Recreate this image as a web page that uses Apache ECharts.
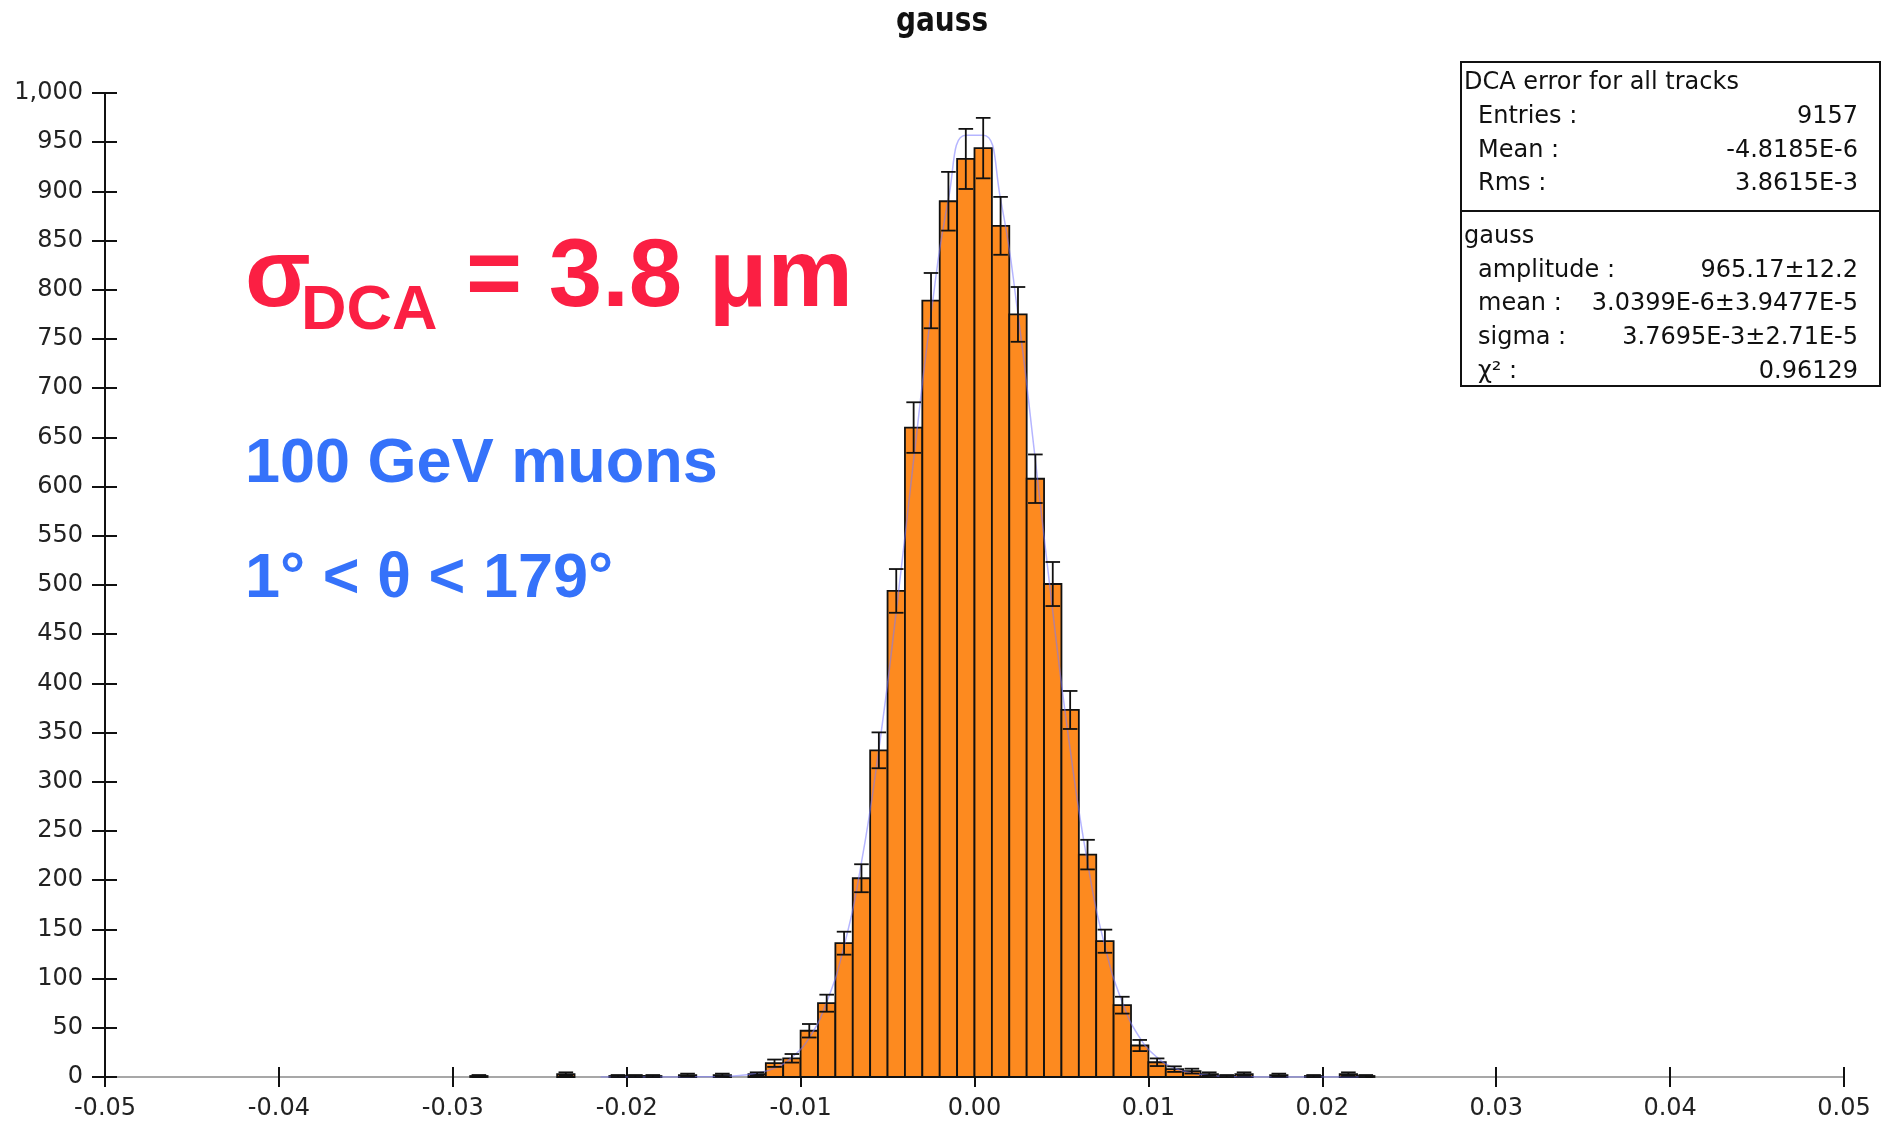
<!DOCTYPE html>
<html>
<head>
<meta charset="utf-8">
<title>gauss</title>
<script src="https://cdn.jsdelivr.net/npm/echarts@6/dist/echarts.min.js"></script>
<style>
    html, body { margin: 0; padding: 0; background: #fff; }
    #main { width: 1890px; height: 1123px; }
</style>
</head>
<body>
<div id="main"></div>
<script>
    // histogram: left edge of each filled bin and its entries (bin width 0.001)
    var binWidth = 0.001;
    var binLeft = [-0.029, -0.024, -0.021, -0.020, -0.019, -0.017, -0.015, -0.013,
        -0.012, -0.011, -0.010, -0.009, -0.008, -0.007, -0.006, -0.005, -0.004, -0.003, -0.002, -0.001,
        0.000, 0.001, 0.002, 0.003, 0.004, 0.005, 0.006, 0.007, 0.008, 0.009,
        0.010, 0.011, 0.012, 0.013, 0.014, 0.015, 0.017, 0.019, 0.021, 0.022];
    var counts = [1, 3, 1, 1, 1, 2, 2, 3,
        14, 19, 47, 75, 136, 202, 332, 494, 660, 789, 890, 933,
        944, 865, 775, 608, 501, 373, 226, 138, 73, 32,
        15, 8, 6, 3, 1, 3, 2, 1, 3, 1];

    // fitted gauss curve at the bin centres
    var fitX = [-0.0215, -0.0205, -0.0195, -0.0185, -0.0175, -0.0165, -0.0155, -0.0145, -0.0135, -0.0125,
        -0.0115, -0.0105, -0.0095, -0.0085, -0.0075, -0.0065, -0.0055, -0.0045, -0.0035, -0.0025,
        -0.0015, -0.0005, 0.0005, 0.0015, 0.0025, 0.0035, 0.0045, 0.0055, 0.0065,
        0.0075, 0.0085, 0.0095, 0.0105, 0.0115, 0.0125, 0.0135, 0.0145, 0.0155, 0.0165,
        0.0175, 0.0185, 0.0195, 0.0205, 0.0215, 0.0225];
    var fitY = [0, 0, 0, 0, 0, 0.1, 0.2, 0.6, 1.6, 4,
        9, 20, 40, 76, 133, 218, 333, 473, 627, 775,
        892, 957, 957, 892, 775, 627, 473, 333, 218,
        133, 76, 40, 20, 9, 4, 1.6, 0.6, 0.2, 0.1,
        0, 0, 0, 0, 0, 0];

    // statistics box
    var statTitle = 'DCA error for all tracks';
    var statLabels = ['Entries :', 'Mean :', 'Rms :'];
    var statValues = ['9157', '-4.8185E-6', '3.8615E-3'];
    var fitTitle = 'gauss';
    var fitLabels = ['amplitude :', 'mean :', 'sigma :', 'χ² :'];
    var fitValues = ['965.17±12.2', '3.0399E-6±3.9477E-5', '3.7695E-3±2.71E-5', '0.96129'];

    var chart = echarts.init(document.getElementById('main'));

    var barData = [];
    for (var i = 0; i < binLeft.length; i++) {
        barData.push([binLeft[i], counts[i]]);
    }
    var fitData = [];
    for (var j = 0; j < fitX.length; j++) {
        fitData.push([fitX[j], fitY[j]]);
    }

    var ink = '#111';

    function renderBar(params, api) {
        var x0 = api.value(0), v = api.value(1);
        var p0 = api.coord([x0, v]);
        var p1 = api.coord([x0 + binWidth, 0]);
        return {
            type: 'rect',
            shape: {x: p0[0], y: p0[1], width: p1[0] - p0[0], height: p1[1] - p0[1]},
            style: {fill: '#fd8a1f', stroke: ink, lineWidth: 1.8}
        };
    }

    // sqrt(N) error bar with a cap at both ends
    function renderErr(params, api) {
        var xc = api.value(0) + binWidth / 2, v = api.value(1), e = Math.sqrt(v);
        var top = api.coord([xc, v + e]);
        var bot = api.coord([xc, v - e]);
        var half = api.size([binWidth, 0])[0] * 0.42;
        var st = {stroke: ink, lineWidth: 1.8};
        return {
            type: 'group',
            children: [
                {type: 'line', shape: {x1: top[0], y1: top[1], x2: bot[0], y2: bot[1]}, style: st},
                {type: 'line', shape: {x1: top[0] - half, y1: top[1], x2: top[0] + half, y2: top[1]}, style: st},
                {type: 'line', shape: {x1: bot[0] - half, y1: bot[1], x2: bot[0] + half, y2: bot[1]}, style: st}
            ]
        };
    }

    // texts of the box and of the slide overlay
    var graphics = [];
    graphics.push({
        type: 'text', x: 942, y: 22, scaleY: 1.2,
        style: {text: 'gauss', fontFamily: 'DejaVu Sans', fontWeight: 'bold', fontSize: 28,
            fill: ink, align: 'center', verticalAlign: 'middle'}
    });
    graphics.push({
        type: 'rect', shape: {x: 1461, y: 62, width: 419, height: 324},
        style: {fill: '#fff', stroke: ink, lineWidth: 2}
    });
    graphics.push({
        type: 'line', shape: {x1: 1461, y1: 211, x2: 1880, y2: 211},
        style: {stroke: ink, lineWidth: 2}
    });
    function boxText(txt, x, y, align) {
        graphics.push({
            type: 'text', x: x, y: y,
            style: {text: txt, fontFamily: 'DejaVu Sans', fontSize: 24, fill: ink,
                align: align, verticalAlign: 'middle'}
        });
    }
    boxText(statTitle, 1464, 83, 'left');
    for (var k = 0; k < statLabels.length; k++) {
        boxText(statLabels[k], 1478, 117 + k * 33.6, 'left');
        boxText(statValues[k], 1858, 117 + k * 33.6, 'right');
    }
    boxText(fitTitle, 1464, 237, 'left');
    for (var m = 0; m < fitLabels.length; m++) {
        boxText(fitLabels[m], 1478, 270.5 + m * 33.6, 'left');
        boxText(fitValues[m], 1858, 270.5 + m * 33.6, 'right');
    }

    function slideText(txt, x, y, size, color) {
        graphics.push({
            type: 'text', x: x, y: y,
            style: {text: txt, fontFamily: 'Liberation Sans', fontWeight: 'bold', fontSize: size,
                fill: color, align: 'left', verticalAlign: 'middle'}
        });
    }
    var red = '#fb1f43', blue = '#3572fa';
    slideText('σ', 245, 280, 96, red);
    slideText('DCA', 301, 312, 63, red);
    slideText('= 3.8 μm', 466, 280, 96, red);
    slideText('100 GeV muons', 245, 465, 63, blue);
    slideText('1° < θ < 179°', 245, 580, 63, blue);

    var xLabel = function (v) {
        return Math.abs(v) < 1e-9 ? '0.00' : v.toFixed(2);
    };
    var axisFont = {fontFamily: 'DejaVu Sans', fontSize: 24, color: '#222'};

    chart.setOption({
        animation: false,
        grid: {left: 105, right: 46, top: 93, bottom: 46},
        xAxis: [
            {
                type: 'value', min: -0.05, max: 0.05, interval: 0.01,
                splitLine: {show: false},
                axisLine: {onZero: false, lineStyle: {color: '#8a8a8a', width: 1.5}},
                axisTick: {length: 10, lineStyle: {color: ink, width: 2}},
                axisLabel: Object.assign({margin: 20, formatter: xLabel}, axisFont)
            },
            {
                type: 'value', position: 'bottom', min: -0.05, max: 0.05, interval: 0.01,
                splitLine: {show: false}, axisLine: {show: false, onZero: false}, axisLabel: {show: false},
                axisTick: {inside: true, length: 10, lineStyle: {color: ink, width: 2}}
            }
        ],
        yAxis: [
            {
                type: 'value', position: 'left', min: 0, max: 1000, interval: 50,
                splitLine: {show: false},
                axisLine: {show: true, onZero: false, lineStyle: {color: ink, width: 2}},
                axisTick: {show: true, length: 13, lineStyle: {color: ink, width: 2}},
                axisLabel: Object.assign({margin: 22, padding: [6, 0, 0, 0], formatter: function (v) {
                    return v.toLocaleString('en-US');
                }}, axisFont)
            },
            {
                type: 'value', position: 'left', min: 0, max: 1000, interval: 50,
                splitLine: {show: false}, axisLine: {show: false, onZero: false}, axisLabel: {show: false},
                axisTick: {show: true, inside: true, length: 12, lineStyle: {color: ink, width: 2}}
            }
        ],
        series: [
            {
                name: 'bars', type: 'custom', renderItem: renderBar, data: barData,
                encode: {x: 0, y: 1}, z: 2
            },
            {
                name: 'fit', type: 'line', data: fitData, smooth: true, showSymbol: false,
                lineStyle: {color: 'rgba(120,120,255,0.55)', width: 1.5}, z: 3
            },
            {
                name: 'errors', type: 'custom', renderItem: renderErr, data: barData,
                encode: {x: 0, y: 1}, z: 4
            }
        ],
        graphic: graphics
    });
</script>
</body>
</html>
